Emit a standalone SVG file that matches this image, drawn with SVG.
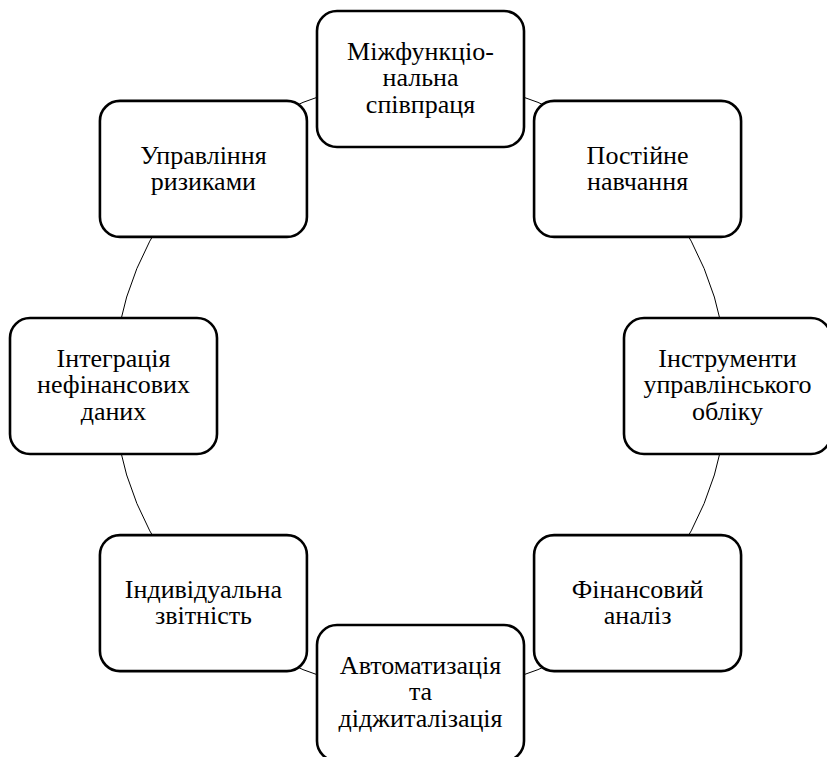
<svg xmlns="http://www.w3.org/2000/svg" width="827" height="757" viewBox="0 0 827 757">
<style>
.box{fill:#fff;stroke:#000;stroke-width:2.6}
.arc{fill:none;stroke:#000;stroke-width:1}
.t{font-family:'Liberation Serif','Times New Roman',serif;font-size:26px;fill:#000;text-anchor:middle}
</style>
<rect width="827" height="757" fill="#fff"/>
<g id="connectors">
<path class="arc" d="M420.5,79 A307,307 0 0 1 637.58,168.92"/>
<path class="arc" d="M637.58,168.92 A307,307 0 0 1 727.5,386"/>
<path class="arc" d="M727.5,386 A307,307 0 0 1 637.58,603.08"/>
<path class="arc" d="M637.58,603.08 A307,307 0 0 1 420.5,693"/>
<path class="arc" d="M420.5,693 A307,307 0 0 1 203.42,603.08"/>
<path class="arc" d="M203.42,603.08 A307,307 0 0 1 113.5,386"/>
<path class="arc" d="M113.5,386 A307,307 0 0 1 203.42,168.92"/>
<path class="arc" d="M203.42,168.92 A307,307 0 0 1 420.5,79"/>
</g>
<g id="n1">
<rect class="box" x="317" y="11" width="207" height="136" rx="20"/>
<text class="t" x="420.5" y="59.7">Міжфункціо-</text>
<text class="t" x="420.5" y="86.4">нальна</text>
<text class="t" x="420.5" y="113.1">співпраця</text>
</g>
<g id="n2">
<rect class="box" x="534.08" y="100.92" width="207" height="136" rx="20"/>
<text class="t" x="637.58" y="163.6">Постійне</text>
<text class="t" x="637.58" y="190.3">навчання</text>
</g>
<g id="n3">
<rect class="box" x="624" y="318" width="207" height="136" rx="20"/>
<text class="t" x="727.5" y="366.7">Інструменти</text>
<text class="t" x="727.5" y="393.4">управлінського</text>
<text class="t" x="727.5" y="420.1">обліку</text>
</g>
<g id="n4">
<rect class="box" x="534.08" y="535.08" width="207" height="136" rx="20"/>
<text class="t" x="637.58" y="597.7">Фінансовий</text>
<text class="t" x="637.58" y="624.4">аналіз</text>
</g>
<g id="n5">
<rect class="box" x="317" y="625" width="207" height="136" rx="20"/>
<text class="t" x="420.5" y="673.7">Автоматизація</text>
<text class="t" x="420.5" y="700.4">та</text>
<text class="t" x="420.5" y="727.1">діджиталізація</text>
</g>
<g id="n6">
<rect class="box" x="99.92" y="535.08" width="207" height="136" rx="20"/>
<text class="t" x="203.42" y="597.7">Індивідуальна</text>
<text class="t" x="203.42" y="624.4">звітність</text>
</g>
<g id="n7">
<rect class="box" x="10" y="318" width="207" height="136" rx="20"/>
<text class="t" x="113.5" y="366.7">Інтеграція</text>
<text class="t" x="113.5" y="393.4">нефінансових</text>
<text class="t" x="113.5" y="420.1">даних</text>
</g>
<g id="n8">
<rect class="box" x="99.92" y="100.92" width="207" height="136" rx="20"/>
<text class="t" x="203.42" y="163.6">Управління</text>
<text class="t" x="203.42" y="190.3">ризиками</text>
</g>
</svg>
